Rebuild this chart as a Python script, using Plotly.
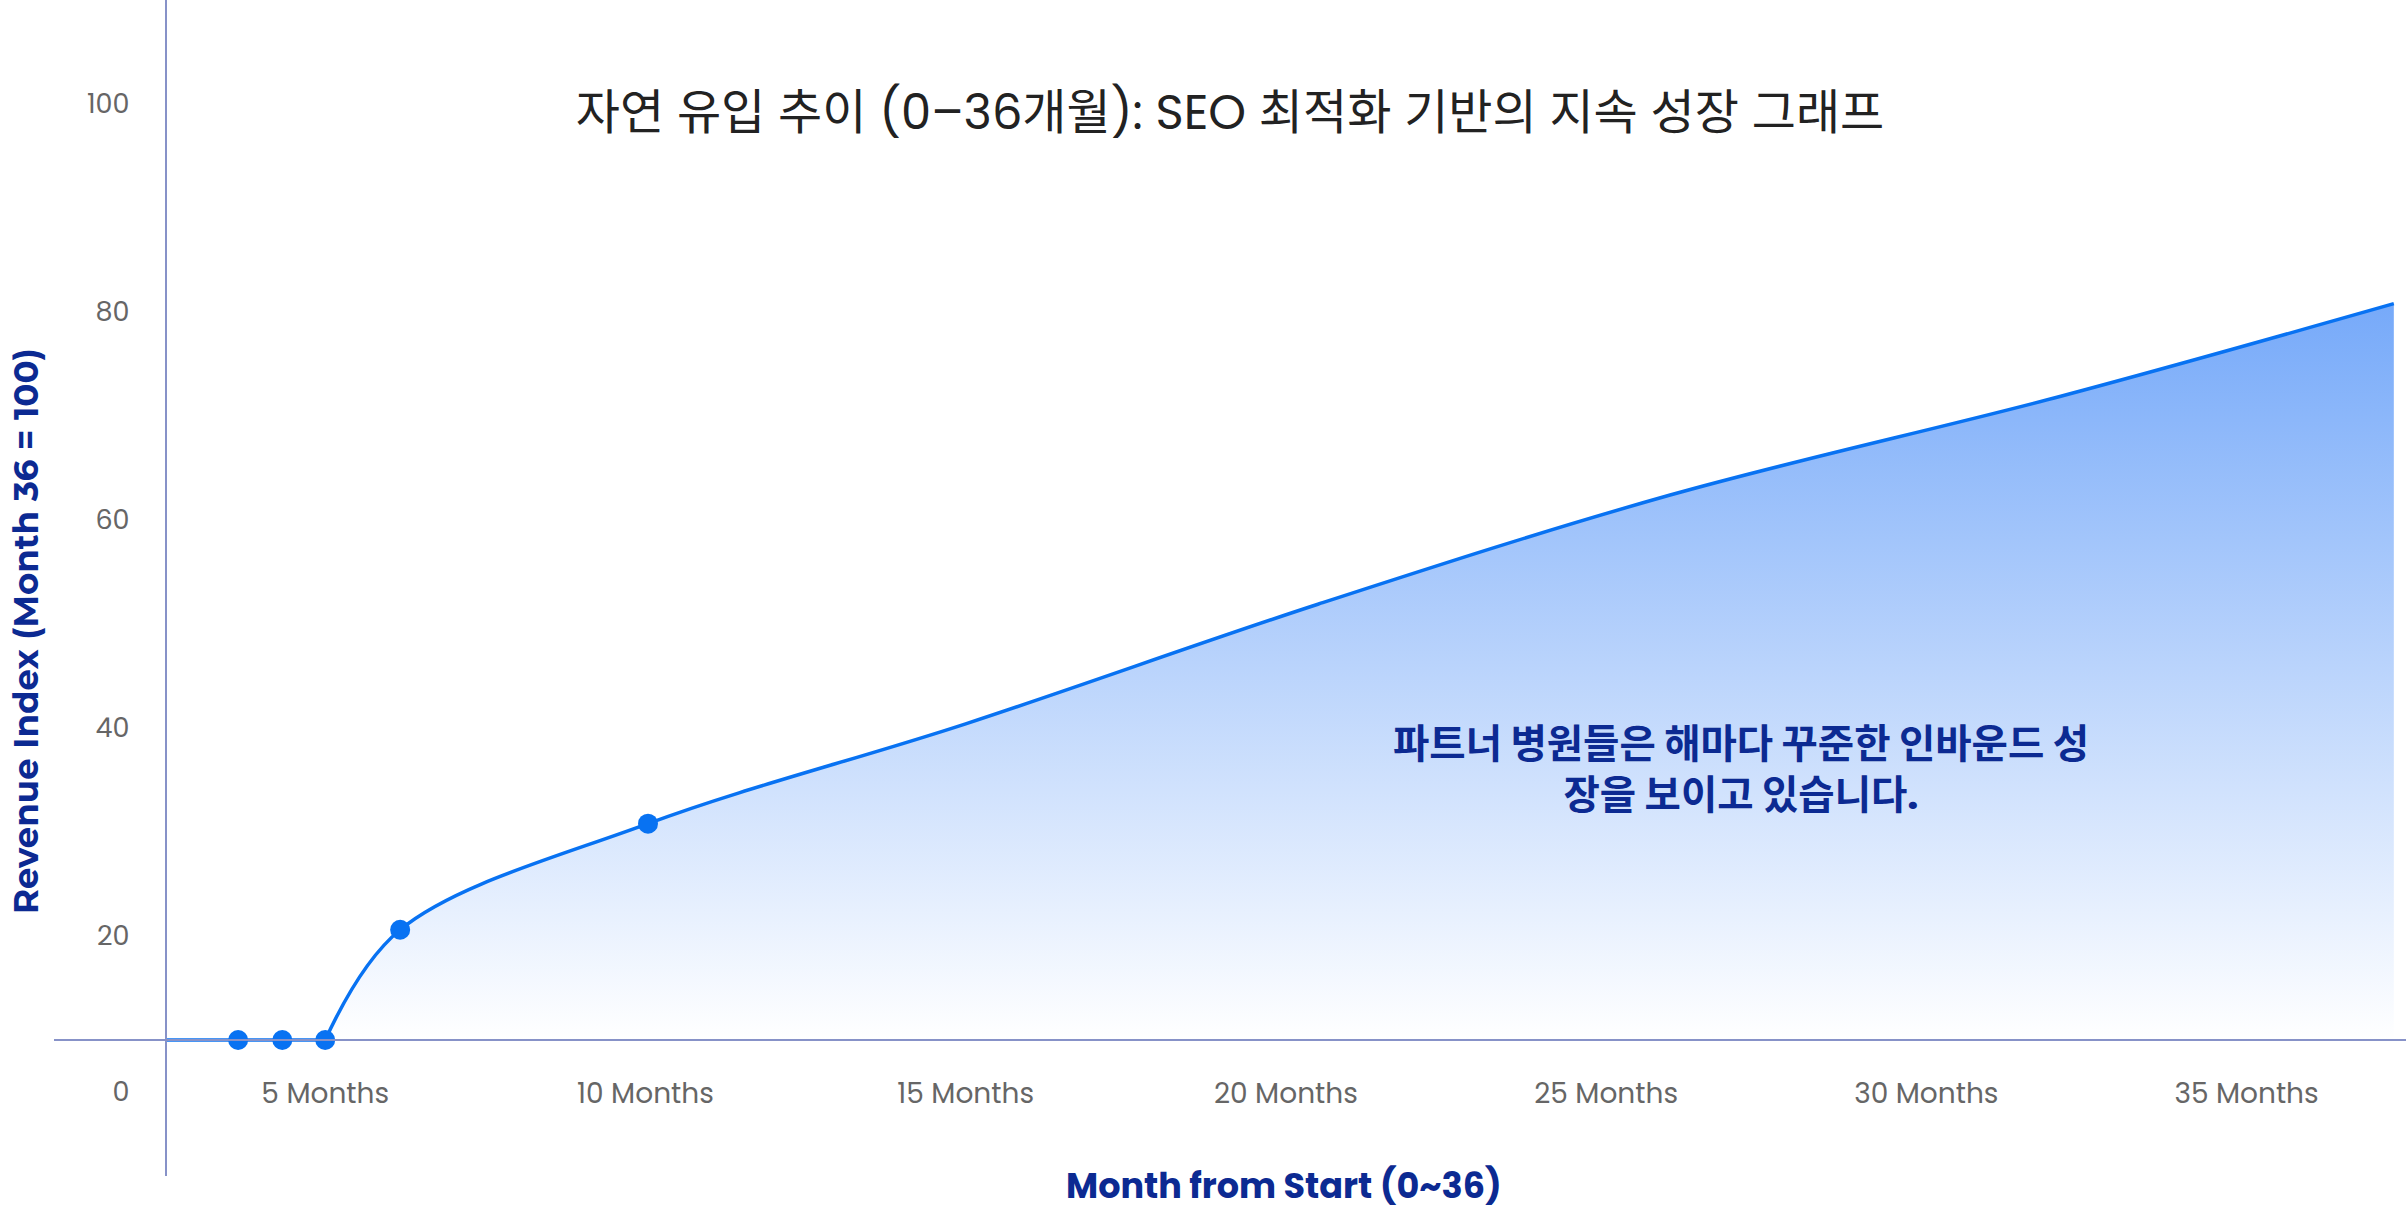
import plotly.graph_objects as go

# months from start vs revenue index (month 36 = 100)
months = [2.5, 3.64, 4.33, 5.0, 6.17, 10.04, 15.0, 20.5, 26.0, 32.1, 37.3]
revenue_index = [10, 10, 10, 10, 20.6, 30.8, 40.4, 51.9, 62.4, 71.9, 80.8]
marked = [1, 2, 3, 4, 5]  # points drawn with a dot
base_value = 10

x_ticks = [5, 10, 15, 20, 25, 30, 35]
x_labels = [f"{m} Months" for m in x_ticks]
y_ticks = [5, 20, 40, 60, 80, 100]
y_labels = ["0", "20", "40", "60", "80", "100"]

title = "자연 유입 추이 (0–36개월): SEO 최적화 기반의 지속 성장 그래프"
note = "파트너 병원들은 해마다 꾸준한 인바운드 성<br>장을 보이고 있습니다."
x_title = "Month from Start (0~36)"
y_title = "Revenue Index (Month 36 = 100)"

blue = "#0872F2"
navy = "#0C2A92"
axis_col = "#8792C8"
font_main = "Poppins, 'Open Sans', 'Noto Sans CJK KR', sans-serif"
font_kr = "Poppins, 'Noto Sans CJK KR', sans-serif"

flat_end = 3  # index where the rise starts
fig = go.Figure()

# baseline for the area fill
fig.add_trace(go.Scatter(x=months[flat_end:], y=[base_value] * len(months[flat_end:]),
                         mode="lines", line=dict(width=0), hoverinfo="skip", showlegend=False))
fig.add_trace(go.Scatter(x=months[flat_end:], y=revenue_index[flat_end:], mode="lines",
                         line=dict(color=blue, width=3.5, shape="spline", smoothing=1.0),
                         fill="tonexty",
                         fillgradient=dict(type="vertical", start=base_value, stop=82,
                                           colorscale=[[0, "rgba(255,255,255,1)"], [1, "#74A8F9"]]),
                         showlegend=False))
fig.add_trace(go.Scatter(x=months[:flat_end + 1], y=revenue_index[:flat_end + 1], mode="lines",
                         line=dict(color=blue, width=3.5), showlegend=False))
fig.add_trace(go.Scatter(x=[months[i] for i in marked], y=[revenue_index[i] for i in marked],
                         mode="markers", marker=dict(color=blue, size=20), showlegend=False))

fig.add_annotation(x=27.1, y=36.0, xref="x", yref="y", text=note, showarrow=False,
                   font=dict(family=font_kr, size=39.5, color=navy, weight="bold"),
                   align="center")

# axis titles as annotations (they sit off-centre in the reference)
fig.add_annotation(x=0.523, y=-0.0085, xref="paper", yref="paper", text=x_title,
                   showarrow=False, xanchor="center", yanchor="middle",
                   font=dict(family=font_main, size=35, color=navy, weight="bold"))
fig.add_annotation(x=-0.0119, y=0.4634, xref="paper", yref="paper", text=y_title,
                   showarrow=False, textangle=-90, xanchor="center", yanchor="middle",
                   font=dict(family="Montserrat, 'Open Sans', sans-serif", size=34,
                             color=navy, weight="bold"))

fig.update_layout(
    width=2406, height=1210,
    margin=dict(l=54, r=0, t=0, b=34),
    paper_bgcolor="white", plot_bgcolor="white",
    title=dict(text=title, x=0.5, xref="paper", y=1 - 112 / 1210, yref="container",
               xanchor="center", yanchor="middle",
               font=dict(family=font_kr, size=48, color="#222222")),
    xaxis=dict(range=[0.765, 37.49], anchor="free", position=0.1156, showline=True,
               linecolor=axis_col, linewidth=2, showgrid=False, zeroline=False,
               tickvals=x_ticks, ticktext=x_labels, ticks="", ticklabelstandoff=28,
               tickfont=dict(family=font_main, size=28, color="#666666"),
               automargin=False),
    yaxis=dict(range=[-3.08, 110], anchor="free", position=0.0476, showline=True,
               linecolor=axis_col, linewidth=2, showgrid=False, zeroline=False,
               tickvals=y_ticks, ticktext=y_labels, ticks="", ticklabelstandoff=30,
               tickfont=dict(family=font_main, size=27, color="#666666"),
               automargin=False),
)

fig.write_html("out.html", config={"displayModeBar": False},
               post_script="document.body.style.margin='0';")
